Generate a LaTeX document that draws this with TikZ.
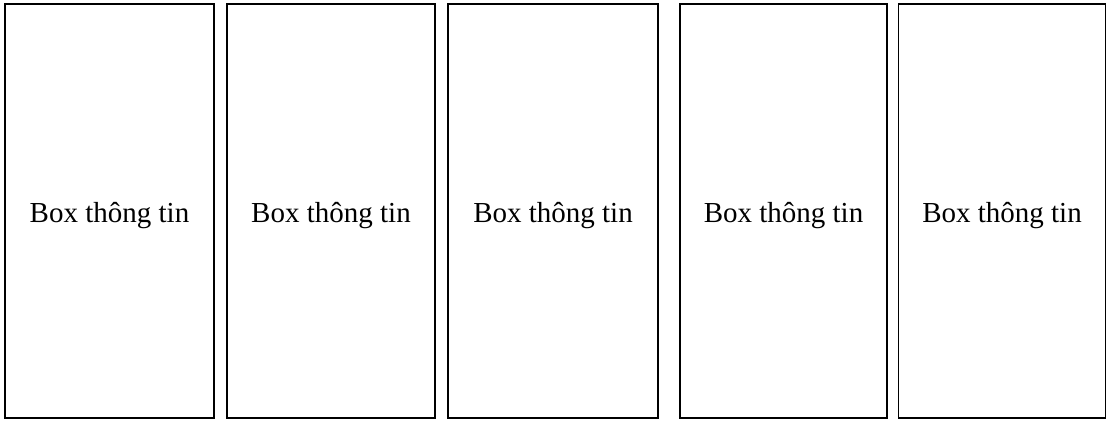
\documentclass[tikz,border=0pt]{standalone}
\usepackage{fontspec}
\setmainfont{Liberation Serif}
\begin{document}
\begin{tikzpicture}[x=1pt,y=-1pt,
  infobox/.style={draw=black, line width=1.6pt, fill=white, rectangle, inner sep=0pt,
    minimum height=414pt,
    label={[font=\fontsize{29}{32}\selectfont, inner sep=0pt, yshift=-5pt]center:Box thông tin}}]
\useasboundingbox (0,0) rectangle (1107,422);
\node[infobox, minimum width=209pt] (b1) at (109.5,211) {};
\node[infobox, minimum width=208pt] (b2) at (331,211) {};
\node[infobox, minimum width=210pt] (b3) at (553,211) {};
\node[infobox, minimum width=207pt] (b4) at (783.5,211) {};
\node[infobox, minimum width=207pt] (b5) at (1002,211) {};
\end{tikzpicture}
\end{document}
